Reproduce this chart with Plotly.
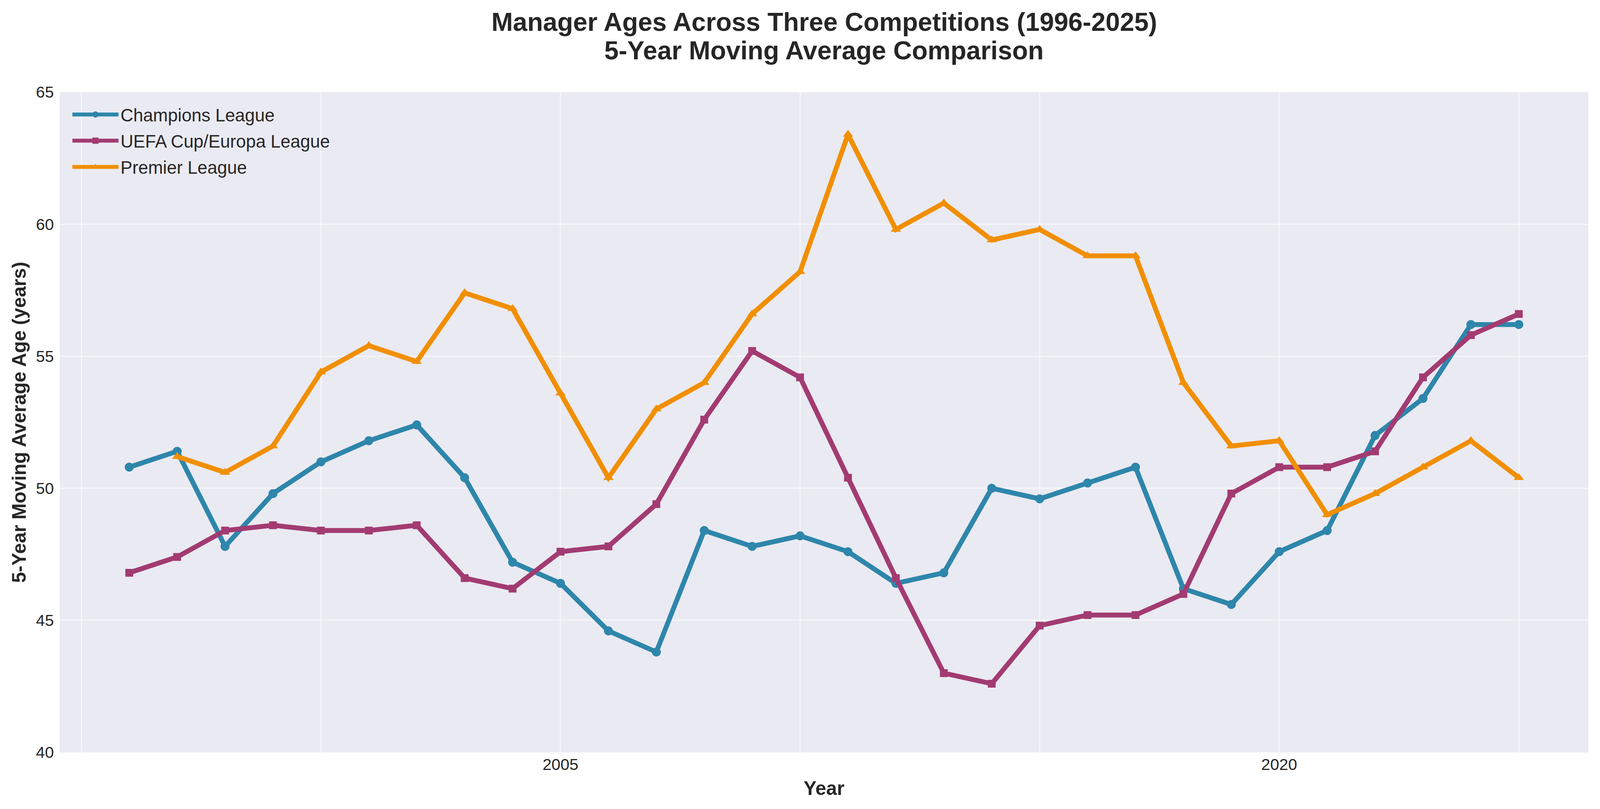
"""Manager ages across three competitions - 5-year moving average"""
import plotly.graph_objects as go

# Данные
years = [1996, 1997, 1998, 1999, 2000, 2001, 2002, 2003, 2004, 2005,
         2006, 2007, 2008, 2009, 2010, 2011, 2012, 2013, 2014, 2015,
         2016, 2017, 2018, 2019, 2020, 2021, 2022, 2023, 2024, 2025]

champions_league = [50.8, 51.4, 47.8, 49.8, 51.0, 51.8, 52.4, 50.4, 47.2, 46.4,
                    44.6, 43.8, 48.4, 47.8, 48.2, 47.6, 46.4, 46.8, 50.0, 49.6,
                    50.2, 50.8, 46.2, 45.6, 47.6, 48.4, 52.0, 53.4, 56.2, 56.2]

uefa_cup = [46.8, 47.4, 48.4, 48.6, 48.4, 48.4, 48.6, 46.6, 46.2, 47.6,
            47.8, 49.4, 52.6, 55.2, 54.2, 50.4, 46.6, 43.0, 42.6, 44.8,
            45.2, 45.2, 46.0, 49.8, 50.8, 50.8, 51.4, 54.2, 55.8, 56.6]

premier_league = [None, 51.2, 50.6, 51.6, 54.4, 55.4, 54.8, 57.4, 56.8, 53.6,
                  50.4, 53.0, 54.0, 56.6, 58.2, 63.4, 59.8, 60.8, 59.4, 59.8,
                  58.8, 58.8, 54.0, 51.6, 51.8, 49.0, 49.8, 50.8, 51.8, 50.4]

x_tick_vals = [1995, 2000, 2005, 2010, 2015, 2020, 2025]
x_tick_text = ["", "", "2005", "", "", "2020", ""]
y_tick_vals = [40, 45, 50, 55, 60, 65]

title_lines = ["Manager Ages Across Three Competitions (1996-2025)",
               "5-Year Moving Average Comparison"]

FONT = "Liberation Sans, Arial, sans-serif"
TEXT_COLOR = "#262626"

# Окно браузера 4096 CSS-пикселей в ширину (снимок потом растягивается до 4171),
# поэтому горизонтальные отступы уменьшаем
HX = 4096 / 4171

series = [
    ("Champions League", champions_league, "#2E86AB", "circle", 23),
    ("UEFA Cup/Europa League", uefa_cup, "#A23B72", "square", 20),
    ("Premier League", premier_league, "#F18F01", "triangle-up", 23),
]

fig = go.Figure()
for name, values, color, symbol, msize in series:
    fig.add_trace(go.Scatter(
        x=years,
        y=values,
        name=name,
        legendgroup=name,
        mode="lines+markers",
        line=dict(color=color, width=12.5),
        marker=dict(symbol=symbol, size=msize, color=color),
        connectgaps=False,
    ))

# Заголовок в две строки (аннотации - чтобы точно задать межстрочный интервал)
for text, ypos in zip(title_lines, [1.1064, 1.0633]):
    fig.add_annotation(
        text=f"<b>{text}</b>",
        xref="paper", yref="paper",
        x=0.5, y=ypos,
        xanchor="center", yanchor="middle",
        showarrow=False,
        font=dict(family=FONT, size=66, color=TEXT_COLOR),
    )

fig.update_layout(
    autosize=True,
    paper_bgcolor="white",
    plot_bgcolor="#EAEAF2",
    font=dict(family=FONT, color=TEXT_COLOR, size=41),
    margin=dict(l=156 * HX, r=31 * HX, t=236, b=145, autoexpand=False),
    legend=dict(
        x=0.007,
        y=0.9875,
        xanchor="left",
        yanchor="top",
        bgcolor="rgba(0,0,0,0)",
        font=dict(family=FONT, size=45.5, color=TEXT_COLOR),
        itemwidth=118,
        tracegroupgap=5,
    ),
    showlegend=True,
)

fig.update_xaxes(
    range=[1994.55, 2026.45],
    tickmode="array",
    tickvals=x_tick_vals,
    ticktext=x_tick_text,
    showgrid=True,
    gridcolor="rgba(255,255,255,0.55)",
    gridwidth=3,
    zeroline=False,
    showline=False,
    ticks="",
    ticklabelstandoff=3,
    tickfont=dict(size=41.3, color=TEXT_COLOR),
    title=dict(text="<b>Year</b>", font=dict(size=49.5, color=TEXT_COLOR),
               standoff=21),
    automargin=False,
)

fig.update_yaxes(
    range=[40, 65],
    tickmode="array",
    tickvals=y_tick_vals,
    showgrid=True,
    gridcolor="rgba(255,255,255,0.55)",
    gridwidth=3,
    zeroline=False,
    showline=False,
    ticks="",
    ticklabelstandoff=14,
    tickfont=dict(size=41.3, color=TEXT_COLOR),
    title=dict(text="<b>5-Year Moving Average Age (years)</b>",
               font=dict(size=49.5, color=TEXT_COLOR), standoff=9),
    automargin=False,
)

# Фигура на всё окно, без отступов страницы и панели инструментов
fig.write_html(
    "out.html",
    default_width="100vw",
    default_height="100vh",
    config={"displayModeBar": False},
    post_script="document.body.style.margin='0';document.body.style.overflow='hidden';",
)
